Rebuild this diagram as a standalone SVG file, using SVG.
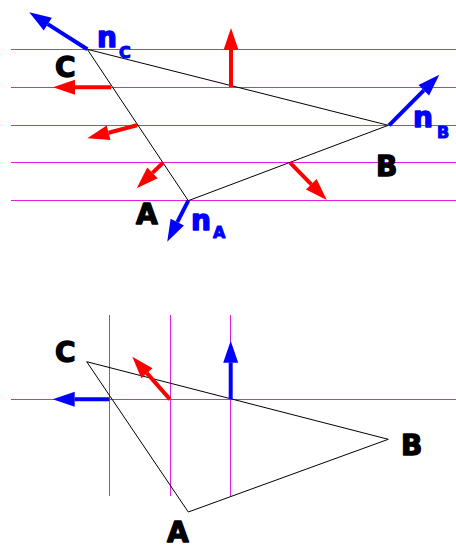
<svg xmlns="http://www.w3.org/2000/svg" width="456" height="549" viewBox="0 0 456 549">
<style>
.guide{stroke:#e020e0;stroke-width:1;fill:none}
.edge{stroke:#000;stroke-width:1;fill:none}
.red{stroke:#ff0000;stroke-width:4;fill:none;marker-end:url(#hr)}
.blue{stroke:#0000ff;stroke-width:4;fill:none;marker-end:url(#hb)}
.lbl{font-family:"DejaVu Sans",sans-serif;font-weight:bold;font-size:28px;fill:#000;stroke:#000;stroke-width:1.4;stroke-linejoin:round}
.nl{font-family:"DejaVu Sans",sans-serif;font-weight:bold;font-size:28px;fill:#0000ff;stroke:#0000ff;stroke-width:1.4;stroke-linejoin:round}
.sub{font-size:16px;stroke-width:1}
</style>
<defs>
<marker id="hr" markerUnits="userSpaceOnUse" markerWidth="22" markerHeight="15" refX="0" refY="7.5" orient="auto" overflow="visible">
<path d="M0,0 L22,7.5 L0,15 z" fill="#ff0000"/>
</marker>
<marker id="hb" markerUnits="userSpaceOnUse" markerWidth="22" markerHeight="15" refX="0" refY="7.5" orient="auto" overflow="visible">
<path d="M0,0 L22,7.5 L0,15 z" fill="#0000ff"/>
</marker>
</defs>
<g id="guides-top">
<line class="guide" x1="11" y1="49.5" x2="456" y2="49.5"/>
<line class="guide" x1="11" y1="87.5" x2="456" y2="87.5"/>
<line class="guide" x1="11" y1="125.5" x2="456" y2="125.5"/>
<line class="guide" x1="11" y1="162.5" x2="456" y2="162.5"/>
<line class="guide" x1="11" y1="200.5" x2="456" y2="200.5"/>
</g>
<g id="guides-bottom">
<line class="guide" x1="11" y1="399.5" x2="456" y2="399.5"/>
<line class="guide" x1="109.5" y1="315" x2="109.5" y2="496"/>
<line class="guide" x1="170.5" y1="315" x2="170.5" y2="496"/>
<line class="guide" x1="230.5" y1="315" x2="230.5" y2="496"/>
</g>
<g id="triangle-top">
<polygon class="edge" points="87.3,49.3 388.3,125.3 188.3,200.7"/>
</g>
<g id="triangle-bottom">
<polygon class="edge" points="86.7,361.7 388.3,439.3 188.3,512"/>
</g>
<g id="connectors">
<line class="red" x1="231" y1="87" x2="231" y2="50"/>
<line class="red" x1="111" y1="87.3" x2="75" y2="87.3"/>
<line class="red" x1="137" y1="125.3" x2="108.6" y2="132.7"/>
<line class="red" x1="163" y1="162.7" x2="152.5" y2="172.9"/>
<line class="red" x1="290" y1="162.7" x2="311.3" y2="184.3"/>
<line class="blue" x1="87.3" y1="49.3" x2="47.8" y2="24.1"/>
<line class="blue" x1="188.3" y1="200.7" x2="177.3" y2="222.1"/>
<line class="blue" x1="389" y1="125.3" x2="423.8" y2="90.3"/>
<line class="blue" x1="109.3" y1="399.3" x2="74.7" y2="399.3"/>
<line class="red" x1="170" y1="399.3" x2="146.9" y2="373.2"/>
<line class="blue" x1="230.7" y1="399.3" x2="230.7" y2="362.7"/>
</g>
<g id="labels-top">
<text class="lbl" x="55" y="77">C</text>
<text class="lbl" x="136" y="224">A</text>
<text class="lbl" x="376" y="176">B</text>
<text class="nl" x="97" y="47">n<tspan class="sub" x="119" y="58">C</tspan></text>
<text class="nl" x="191" y="230">n<tspan class="sub" x="213" y="238">A</tspan></text>
<text class="nl" x="413" y="127">n<tspan class="sub" x="437" y="138">B</tspan></text>
</g>
<g id="labels-bottom">
<text class="lbl" x="55" y="362">C</text>
<text class="lbl" x="167" y="542">A</text>
<text class="lbl" x="401" y="455">B</text>
</g>
</svg>
